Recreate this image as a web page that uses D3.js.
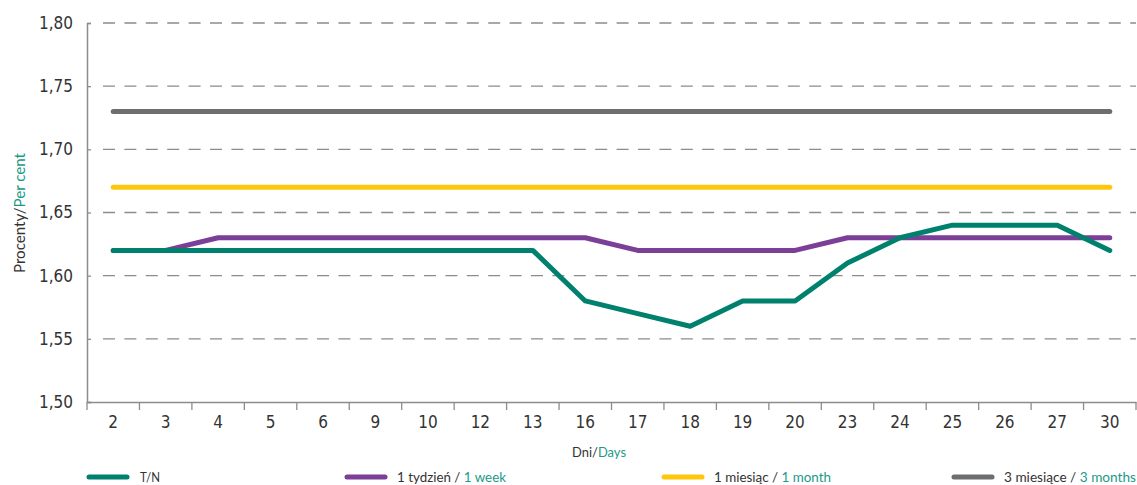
<!DOCTYPE html>
<html lang="pl">
<head>
<meta charset="UTF-8">
<title>Stawki</title>
<script src="https://d3js.org/d3.v7.min.js"></script>
<style>
    body { margin: 0; background: #fff; }
    svg { display: block; }
</style>
</head>
<body>
<div id="chart"></div>
<script>
    // data
    const days = ['2','3','4','5','6','9','10','12','13','16','17','18','19','20','23','24','25','26','27','30'];
    const tn      = [1.62,1.62,1.62,1.62,1.62,1.62,1.62,1.62,1.62,1.58,1.57,1.56,1.58,1.58,1.61,1.63,1.64,1.64,1.64,1.62];
    const week1   = [1.62,1.62,1.63,1.63,1.63,1.63,1.63,1.63,1.63,1.63,1.62,1.62,1.62,1.62,1.63,1.63,1.63,1.63,1.63,1.63];
    const month1  = [1.67,1.67,1.67,1.67,1.67,1.67,1.67,1.67,1.67,1.67,1.67,1.67,1.67,1.67,1.67,1.67,1.67,1.67,1.67,1.67];
    const months3 = [1.73,1.73,1.73,1.73,1.73,1.73,1.73,1.73,1.73,1.73,1.73,1.73,1.73,1.73,1.73,1.73,1.73,1.73,1.73,1.73];
    const yTicks = [1.50,1.55,1.60,1.65,1.70,1.75,1.80];

    const series = [
        {pl: 'T/N', en: '', values: tn, color: '#00816e', lx: 87, tw: 20},
        {pl: '1 tydzień / ', en: '1 week', values: week1, color: '#7c3f98', lx: 345, tw: 109},
        {pl: '1 miesiąc / ', en: '1 month', values: month1, color: '#ffc60b', lx: 662, tw: 117},
        {pl: '3 miesiące / ', en: '3 months', values: months3, color: '#6d6e70', lx: 952, tw: 132}
    ];

    const W = 1137, H = 485;
    const mLeft = 87, mRight = 1136, mTop = 23, mBottom = 402;
    const teal = '#1b9988', dark = '#333', axisCol = '#8c8c8c';
    const numFont = '"Liberation Sans Narrow", "DejaVu Sans Condensed", sans-serif';

    const svg = d3.select('#chart').append('svg')
        .attr('width', W).attr('height', H);

    const x = d3.scaleBand().domain(days).range([mLeft, mRight]).padding(0);
    const y = d3.scaleLinear().domain([1.5, 1.8]).range([mBottom, mTop]);
    const fmt = d3.formatLocale({decimal: ',', thousands: ' ', grouping: [3], currency: ['', '']}).format('.2f');

    // dashed grid
    svg.append('g').selectAll('line')
        .data(yTicks.filter(t => t > 1.5))
        .enter().append('line')
        .attr('x1', mLeft + 16).attr('x2', mRight)
        .attr('y1', d => y(d)).attr('y2', d => y(d))
        .attr('stroke', axisCol).attr('stroke-width', 1.3)
        .attr('stroke-dasharray', '12,9.4');

    // y axis, small ticks inside
    const yAxis = svg.append('g')
        .attr('transform', `translate(${mLeft},0)`)
        .call(d3.axisLeft(y).tickValues(yTicks).tickFormat(fmt).tickSize(-4).tickPadding(14));
    yAxis.select('.domain').attr('stroke', axisCol).attr('stroke-width', 1.5);
    yAxis.selectAll('.tick line').attr('stroke', axisCol).attr('stroke-width', 1.3);
    yAxis.selectAll('text')
        .attr('font-family', numFont)
        .attr('font-size', 17).attr('fill', dark);

    // x axis: ticks on band boundaries, labels at band centres
    const xAxis = svg.append('g')
        .attr('transform', `translate(0,${mBottom})`)
        .call(d3.axisBottom(x).tickSize(0).tickPadding(14));
    xAxis.select('.domain').attr('stroke', axisCol).attr('stroke-width', 1.5);
    xAxis.selectAll('text')
        .attr('font-family', numFont)
        .attr('font-size', 17).attr('fill', dark);
    xAxis.selectAll('line.bound')
        .data(days.map(d => x(d)).concat([x(days[days.length - 1]) + x.bandwidth()]))
        .enter().append('line')
        .attr('class', 'bound')
        .attr('x1', d => d).attr('x2', d => d)
        .attr('y1', 0).attr('y2', 8)
        .attr('stroke', axisCol).attr('stroke-width', 1.3);

    // lines, T/N on top
    const line = d3.line()
        .x((d, i) => x(days[i]) + x.bandwidth() / 2)
        .y(d => y(d));
    svg.append('g').selectAll('path')
        .data(series.slice().reverse())
        .enter().append('path')
        .attr('d', d => line(d.values))
        .attr('fill', 'none')
        .attr('stroke', d => d.color)
        .attr('stroke-width', 5)
        .attr('stroke-linecap', 'round')
        .attr('stroke-linejoin', 'round');

    // axis titles
    const yt = svg.append('text')
        .attr('transform', 'translate(25,213) rotate(-90)')
        .attr('text-anchor', 'middle')
        .attr('font-family', 'Lato, sans-serif')
        .attr('font-size', 15)
        .attr('textLength', 120).attr('lengthAdjust', 'spacingAndGlyphs');
    yt.append('tspan').attr('fill', dark).text('Procenty/');
    yt.append('tspan').attr('fill', teal).text('Per cent');

    const xt = svg.append('text')
        .attr('x', 599).attr('y', 457)
        .attr('text-anchor', 'middle')
        .attr('font-family', 'Lato, sans-serif')
        .attr('font-size', 14)
        .attr('textLength', 54).attr('lengthAdjust', 'spacingAndGlyphs');
    xt.append('tspan').attr('fill', dark).text('Dni/');
    xt.append('tspan').attr('fill', teal).text('Days');

    // legend
    const lg = svg.append('g').selectAll('g')
        .data(series)
        .enter().append('g')
        .attr('transform', d => `translate(${d.lx},477)`);
    lg.append('line')
        .attr('x1', 2).attr('x2', 40)
        .attr('stroke', d => d.color)
        .attr('stroke-width', 5)
        .attr('stroke-linecap', 'round');
    const lt = lg.append('text')
        .attr('x', d => d.lx === 87 ? 53 : 52)
        .attr('y', 5)
        .attr('font-family', 'Lato, sans-serif')
        .attr('font-size', 14)
        .attr('textLength', d => d.tw).attr('lengthAdjust', 'spacingAndGlyphs');
    lt.append('tspan').attr('fill', dark).text(d => d.pl);
    lt.append('tspan').attr('fill', teal).text(d => d.en);
</script>
</body>
</html>
